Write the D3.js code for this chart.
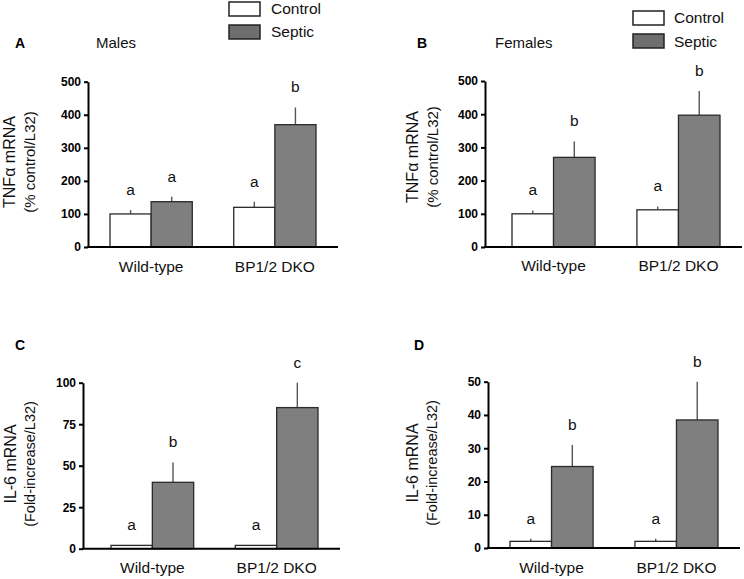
<!DOCTYPE html>
<html>
<head>
<meta charset="utf-8">
<script src="https://cdn.jsdelivr.net/npm/d3@7"></script>
<style>
  body { margin: 0; background: #fff; }
  svg { display: block; font-family: "Liberation Sans", Arial, sans-serif; }
</style>
</head>
<body>
<svg id="chart" width="744" height="579"></svg>
<script>
// ---------- data ----------
const groups = ["Wild-type", "BP1/2 DKO"];
const seriesNames = ["Control", "Septic"];

// Panel A: Males, TNFα
const maleTnfMean = [[100, 137], [120, 370]];   // [group][series]
const maleTnfSem  = [[12, 15], [17, 52]];
const maleTnfSig  = [["a", "a"], ["a", "b"]];
const tnfTicks = [0, 100, 200, 300, 400, 500];

// Panel B: Females, TNFα
const femaleTnfMean = [[100, 270], [112, 397]];
const femaleTnfSem  = [[10, 48], [10, 73]];
const femaleTnfSig  = [["a", "b"], ["a", "b"]];

// Panel C: Males, IL-6
const maleIl6Mean = [[2, 40], [2, 85]];
const maleIl6Sem  = [[0, 12], [0, 15]];
const maleIl6Sig  = [["a", "b"], ["a", "c"]];
const il6MaleTicks = [0, 25, 50, 75, 100];

// Panel D: Females, IL-6
const femaleIl6Mean = [[2, 24.5], [2, 38.5]];
const femaleIl6Sem  = [[0.8, 6.5], [0.8, 11.5]];
const femaleIl6Sig  = [["a", "b"], ["a", "b"]];
const il6FemaleTicks = [0, 10, 20, 30, 40, 50];

const panelLetters = ["A", "B", "C", "D"];
const panelTitles = ["Males", "Females", "", ""];
const yTitles = [["TNFα mRNA", "(% control/L32)"], ["TNFα mRNA", "(% control/L32)"],
                 ["IL-6 mRNA", "(Fold-increase/L32)"], ["IL-6 mRNA", "(Fold-increase/L32)"]];

// ---------- layout ----------
const panels = [
  { mean: maleTnfMean, sem: maleTnfSem, sig: maleTnfSig, ticks: tnfTicks,
    ax: 88, axEnd: 338, y0: 247, y1: 81.7, bars: [110, 316],
    letter: [15, 48], title: [96, 48], ylab: [9.5, 29.5, 162], ylabSize: [16, 15], xlabY: 272 },
  { mean: femaleTnfMean, sem: femaleTnfSem, sig: femaleTnfSig, ticks: tnfTicks,
    ax: 485, axEnd: 742, y0: 247, y1: 81, bars: [512, 720],
    letter: [417, 48], title: [495, 48], ylab: [412.5, 432, 157], ylabSize: [16, 15], xlabY: 271 },
  { mean: maleIl6Mean, sem: maleIl6Sem, sig: maleIl6Sig, ticks: il6MaleTicks,
    ax: 83, axEnd: 340, y0: 548.7, y1: 382.7, bars: [111, 318],
    letter: [15, 350], title: [96, 350], ylab: [10, 29.5, 464], ylabSize: [16, 14.5], xlabY: 573 },
  { mean: femaleIl6Mean, sem: femaleIl6Sem, sig: femaleIl6Sig, ticks: il6FemaleTicks,
    ax: 488, axEnd: 740, y0: 548, y1: 381.7, bars: [510, 718],
    letter: [414, 350], title: [495, 350], ylab: [412, 432, 463], ylabSize: [16, 14.5], xlabY: 573 }
];

const fills = { Control: "#ffffff", Septic: "#7f7f7f" };
const svg = d3.select("#chart");

panels.forEach((p, i) => {
  const g = svg.append("g");
  const y = d3.scaleLinear().domain([0, d3.max(p.ticks)]).range([p.y0, p.y1]);
  const x = d3.scaleBand().domain(groups).range(p.bars).paddingInner(0.335).paddingOuter(0);
  const xs = d3.scaleBand().domain(seriesNames).range([0, x.bandwidth()]).padding(0);

  // bars
  groups.forEach((grp, gi) => {
    seriesNames.forEach((s, si) => {
      const m = p.mean[gi][si], e = p.sem[gi][si];
      const bx = x(grp) + xs(s);
      if (e > 0) {
        g.append("line")
          .attr("x1", bx + xs.bandwidth() / 2).attr("x2", bx + xs.bandwidth() / 2)
          .attr("y1", y(m)).attr("y2", y(m + e))
          .attr("stroke", "#555").attr("stroke-width", 1.4);
      }
      g.append("rect")
        .attr("x", bx).attr("y", y(m))
        .attr("width", xs.bandwidth()).attr("height", y(0) - y(m))
        .attr("fill", fills[s]).attr("stroke", "#2a2a2a").attr("stroke-width", 1.3);
      g.append("text")
        .attr("x", bx + xs.bandwidth() / 2).attr("y", y(m + e) - 15)
        .attr("text-anchor", "middle").attr("font-size", 15.5).attr("fill", "#111")
        .text(p.sig[gi][si]);
    });
  });

  // y axis
  const yAxis = g.append("g").attr("transform", `translate(${p.ax},0)`)
    .call(d3.axisLeft(y).tickValues(p.ticks).tickSize(4).tickPadding(3).tickSizeOuter(0));
  yAxis.select(".domain").attr("stroke", "#000").attr("stroke-width", 2);
  yAxis.selectAll(".tick line").attr("stroke", "#000").attr("stroke-width", 2);
  yAxis.selectAll(".tick text").attr("font-size", 12).attr("font-weight", "bold")
    .attr("font-family", "Liberation Sans, Arial, sans-serif").attr("fill", "#000");

  // x axis line
  g.append("line").attr("x1", p.ax - 1).attr("x2", p.axEnd)
    .attr("y1", y(0)).attr("y2", y(0)).attr("stroke", "#000").attr("stroke-width", 2);
  // x labels
  const xAxis = g.append("g").attr("transform", `translate(0,${p.xlabY})`)
    .call(d3.axisBottom(x).tickSize(0).tickPadding(0));
  xAxis.select(".domain").remove();
  xAxis.selectAll(".tick text").attr("dy", 0).attr("y", 0)
    .attr("font-size", 15.5).attr("font-family", "Liberation Sans, Arial, sans-serif").attr("fill", "#111");

  // y title (two lines)
  [0, 1].forEach(k => {
    g.append("text")
      .attr("transform", `translate(${p.ylab[k]},${p.ylab[2]}) rotate(-90)`)
      .attr("text-anchor", "middle").attr("dominant-baseline", "central")
      .attr("font-size", p.ylabSize[k]).attr("fill", "#111")
      .text(yTitles[i][k]);
  });

  // panel letter & title
  g.append("text").attr("x", p.letter[0]).attr("y", p.letter[1])
    .attr("font-size", 14).attr("font-weight", "bold").attr("fill", "#000").text(panelLetters[i]);
  if (panelTitles[i]) {
    g.append("text").attr("x", p.title[0]).attr("y", p.title[1])
      .attr("font-size", 15).attr("fill", "#111").text(panelTitles[i]);
  }
});

// legends
const legends = [
  { x: 229, ys: [2, 25], tx: 271, tys: [14, 37] },
  { x: 633, ys: [11, 34], tx: 674, tys: [23, 47] }
];
legends.forEach(L => {
  seriesNames.forEach((s, k) => {
    svg.append("rect").attr("x", L.x).attr("y", L.ys[k]).attr("width", 31).attr("height", 14)
      .attr("fill", s === "Septic" ? "#6e6e6e" : "#fff").attr("stroke", "#222").attr("stroke-width", 1.5);
    svg.append("text").attr("x", L.tx).attr("y", L.tys[k])
      .attr("font-size", 15.5).attr("fill", "#111").text(s);
  });
});
</script>
</body>
</html>
